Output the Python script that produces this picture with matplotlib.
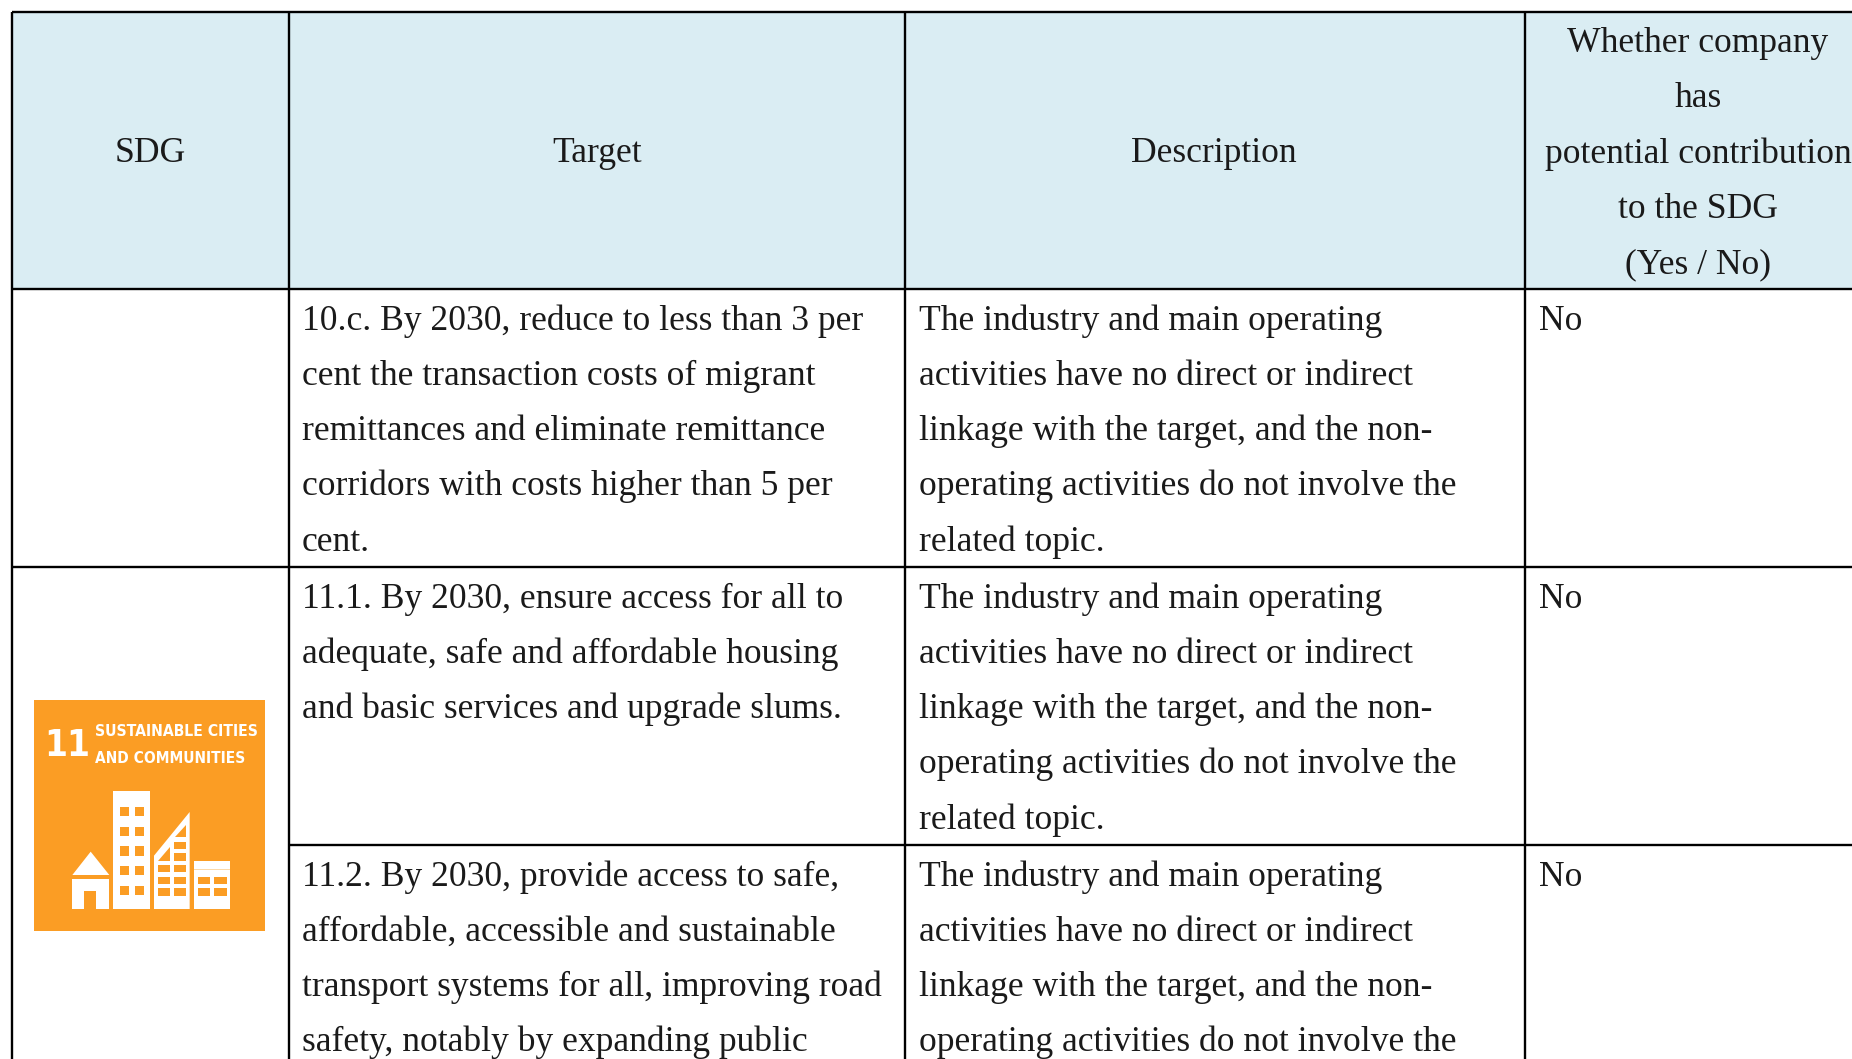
import matplotlib.pyplot as plt
from matplotlib import font_manager as fm
from matplotlib.patches import Polygon, Rectangle

plt.rcParams['font.family'] = ['Liberation Serif', 'DejaVu Serif']

W, H = 1852, 1059

# table text
headers = ['SDG', 'Target', 'Description']
last_header = ['Whether company', 'has', 'potential contribution', 'to the SDG', '(Yes / No)']

targets = [
    ['10.c. By 2030, reduce to less than 3 per', 'cent the transaction costs of migrant',
     'remittances and eliminate remittance', 'corridors with costs higher than 5 per', 'cent.'],
    ['11.1. By 2030, ensure access for all to', 'adequate, safe and affordable housing',
     'and basic services and upgrade slums.'],
    ['11.2. By 2030, provide access to safe,', 'affordable, accessible and sustainable',
     'transport systems for all, improving road', 'safety, notably by expanding public'],
]
descriptions = [
    ['The industry and main operating', 'activities have no direct or indirect',
     'linkage with the target, and the non-', 'operating activities do not involve the', 'related topic.'],
    ['The industry and main operating', 'activities have no direct or indirect',
     'linkage with the target, and the non-', 'operating activities do not involve the', 'related topic.'],
    ['The industry and main operating', 'activities have no direct or indirect',
     'linkage with the target, and the non-', 'operating activities do not involve the'],
]
answers = ['No', 'No', 'No']

# grid, in image pixels
col_x = [12, 289, 905, 1525]
row_y = [12, 289, 567, 845]
text_x = [302, 919, 1539]
header_x = [150, 597, 1214, 1698]
line_h = 55.3
fs = 25.6
orange = '#fb9d24'
header_bg = '#daedf3'
ink = '#1a1a1a'

fig = plt.figure(figsize=(W / 100, H / 100), dpi=100)
ax = fig.add_axes([0, 0, 1, 1])
ax.set_xlim(0, W)
ax.set_ylim(H, 0)
ax.axis('off')

ax.add_patch(Rectangle((col_x[0], row_y[0]), W - col_x[0], row_y[1] - row_y[0], color=header_bg, lw=0))

# horizontal rules, the first column has no rule between 11.1 and 11.2
for i, y in enumerate(row_y):
    ax.plot([col_x[1] if i == 3 else col_x[0], W], [y, y], color='black', lw=1.7, solid_capstyle='butt')
for x in col_x:
    ax.plot([x, x], [row_y[0], H], color='black', lw=1.7, solid_capstyle='butt')

# header
for x, label in zip(header_x, headers):
    ax.text(x, 153.5, label, ha='center', va='center', fontsize=fs, color=ink)
for i, label in enumerate(last_header):
    ax.text(header_x[3], 43.5 + i * line_h, label, ha='center', va='center', fontsize=fs, color=ink)

# body
for r, y0 in enumerate(row_y[1:]):
    base = y0 + 40.5
    for i, line in enumerate(targets[r]):
        ax.text(text_x[0], base + i * line_h, line, va='baseline', fontsize=fs, color=ink)
    for i, line in enumerate(descriptions[r]):
        ax.text(text_x[1], base + i * line_h, line, va='baseline', fontsize=fs, color=ink)
    ax.text(text_x[2], base, answers[r], va='baseline', fontsize=fs, color=ink)


# SDG 11 icon, shapes measured on a 3x crop whose corner is at (0, 680)
def zp(x, y):
    return x / 3, 680 + y / 3


def zrect(x0, y0, x1, y1, color):
    px, py = zp(x0, y0)
    ax.add_patch(Rectangle((px, py), (x1 - x0) / 3, (y1 - y0) / 3, color=color, lw=0))


def zpoly(pts, color):
    ax.add_patch(Polygon([zp(*p) for p in pts], closed=True, color=color, lw=0))


zrect(102, 60, 795, 752, orange)

# a condensed face if the machine has one, else shrink to the measured width
narrow = [f for f in fm.fontManager.ttflist
          if 'condensed' in f.name.lower() or 'narrow' in f.name.lower() or f.stretch == 'condensed']
narrow = sorted(narrow, key=lambda f: f.weight != 700)
if narrow:
    icon_font = fm.FontProperties(fname=narrow[0].fname)
else:
    icon_font = fm.FontProperties(family='Liberation Sans', weight='bold')

renderer = fig.canvas.get_renderer()


def fit_text(x, y, label, size, width):
    t = ax.text(*zp(x, y), label, color='white', fontproperties=icon_font, va='baseline')
    t.set_fontsize(size)
    w = t.get_window_extent(renderer).width
    if w > width:
        t.set_fontsize(size * width / w)


fit_text(132, 228, '11', 48, 46)
fit_text(285, 168, 'SUSTAINABLE CITIES', 19, 163)
fit_text(285, 250, 'AND COMMUNITIES', 19, 150)

# house
zpoly([(217, 585), (328, 585), (272, 515)], 'white')
zrect(217, 597, 328, 687, 'white')
zrect(252, 632, 289, 687, orange)
# tower
zrect(340, 333, 449, 687, 'white')
for wy in [380, 440, 499, 558, 618]:
    zrect(360, wy, 386, wy + 28, orange)
    zrect(405, wy, 431, wy + 28, orange)
# wedge building
zpoly([(462, 687), (462, 527), (569, 396), (569, 687)], 'white')
for wy in [555, 590, 625]:
    zrect(475, wy, 510, wy + 22, orange)
    zrect(522, wy, 557, wy + 22, orange)
zrect(522, 520, 557, 542, orange)
zrect(522, 485, 557, 507, orange)
zpoly([(475, 542), (510, 542), (510, 500)], orange)
zpoly([(525, 472), (557, 472), (557, 435)], orange)
# low block
zrect(583, 543, 690, 687, 'white')
zrect(583, 568, 690, 571, '#fcd9a8')
for wy in [590, 625]:
    zrect(595, wy, 631, wy + 23, orange)
    zrect(643, wy, 680, wy + 23, orange)

fig.savefig('out.png', dpi=100)
